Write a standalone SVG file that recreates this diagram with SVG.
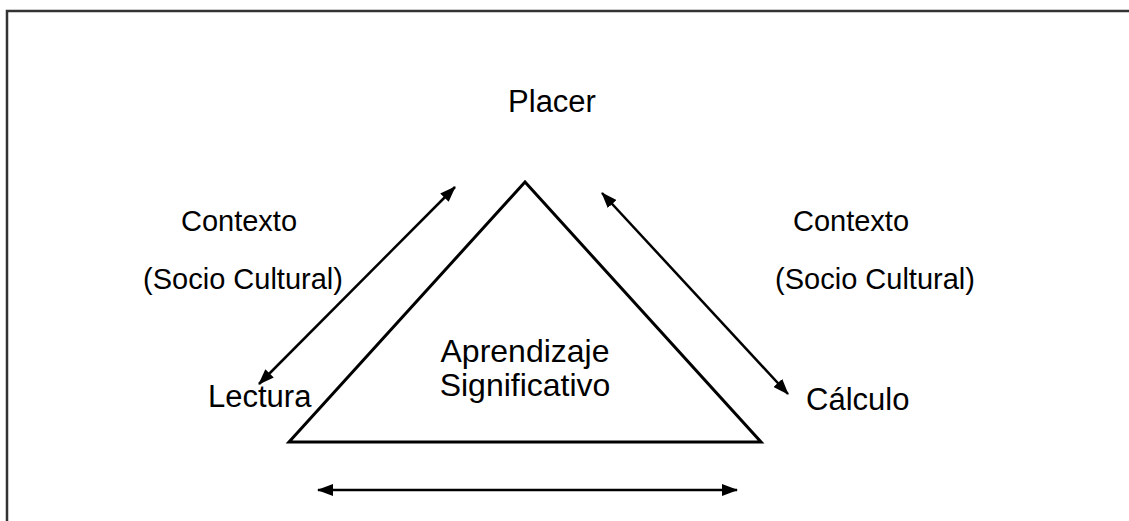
<svg xmlns="http://www.w3.org/2000/svg" width="1129" height="521" viewBox="0 0 1129 521">
<style>
text{font-family:"Liberation Sans",Arial,sans-serif;fill:#000}
.big{font-size:31px}
.apr{font-size:32px}
.ctx{font-size:29px}
.c{stroke:#000;stroke-width:2.5;fill:none}
</style>
<defs>
<marker id="ah" viewBox="0 0 16 12" refX="15" refY="6" markerWidth="16" markerHeight="12" markerUnits="userSpaceOnUse" orient="auto-start-reverse">
<path d="M0,0 L16,6 L0,12 z" fill="#000"/>
</marker>
</defs>
<rect width="1129" height="521" fill="#fff"/>
<path d="M7,521 L7,11 L1129,11" fill="none" stroke="#333" stroke-width="2.5"/>
<g id="triangle">
<polygon points="525,182 289,442 761,442" fill="none" stroke="#000" stroke-width="3"/>
</g>
<g id="placer"><text class="big" x="552" y="112" text-anchor="middle">Placer</text></g>
<g id="aprendizaje">
<text class="apr" x="525" y="362" text-anchor="middle">Aprendizaje</text>
<text class="apr" x="525" y="396" text-anchor="middle">Significativo</text>
</g>
<g id="lectura"><text class="big" x="208" y="407">Lectura</text></g>
<g id="calculo"><text class="big" x="806" y="410">Cálculo</text></g>
<g id="contexto-left">
<text class="ctx" x="239" y="231" text-anchor="middle">Contexto</text>
<text class="ctx" x="243" y="289" text-anchor="middle">(Socio Cultural)</text>
</g>
<g id="contexto-right">
<text class="ctx" x="851" y="231" text-anchor="middle">Contexto</text>
<text class="ctx" x="875" y="289" text-anchor="middle">(Socio Cultural)</text>
</g>
<g id="connectors">
<line class="c" x1="259" y1="384" x2="455" y2="187" marker-start="url(#ah)" marker-end="url(#ah)"/>
<line class="c" x1="602" y1="193" x2="788" y2="394" marker-start="url(#ah)" marker-end="url(#ah)"/>
<line class="c" x1="318" y1="490" x2="737" y2="490" marker-start="url(#ah)" marker-end="url(#ah)"/>
</g>
</svg>
